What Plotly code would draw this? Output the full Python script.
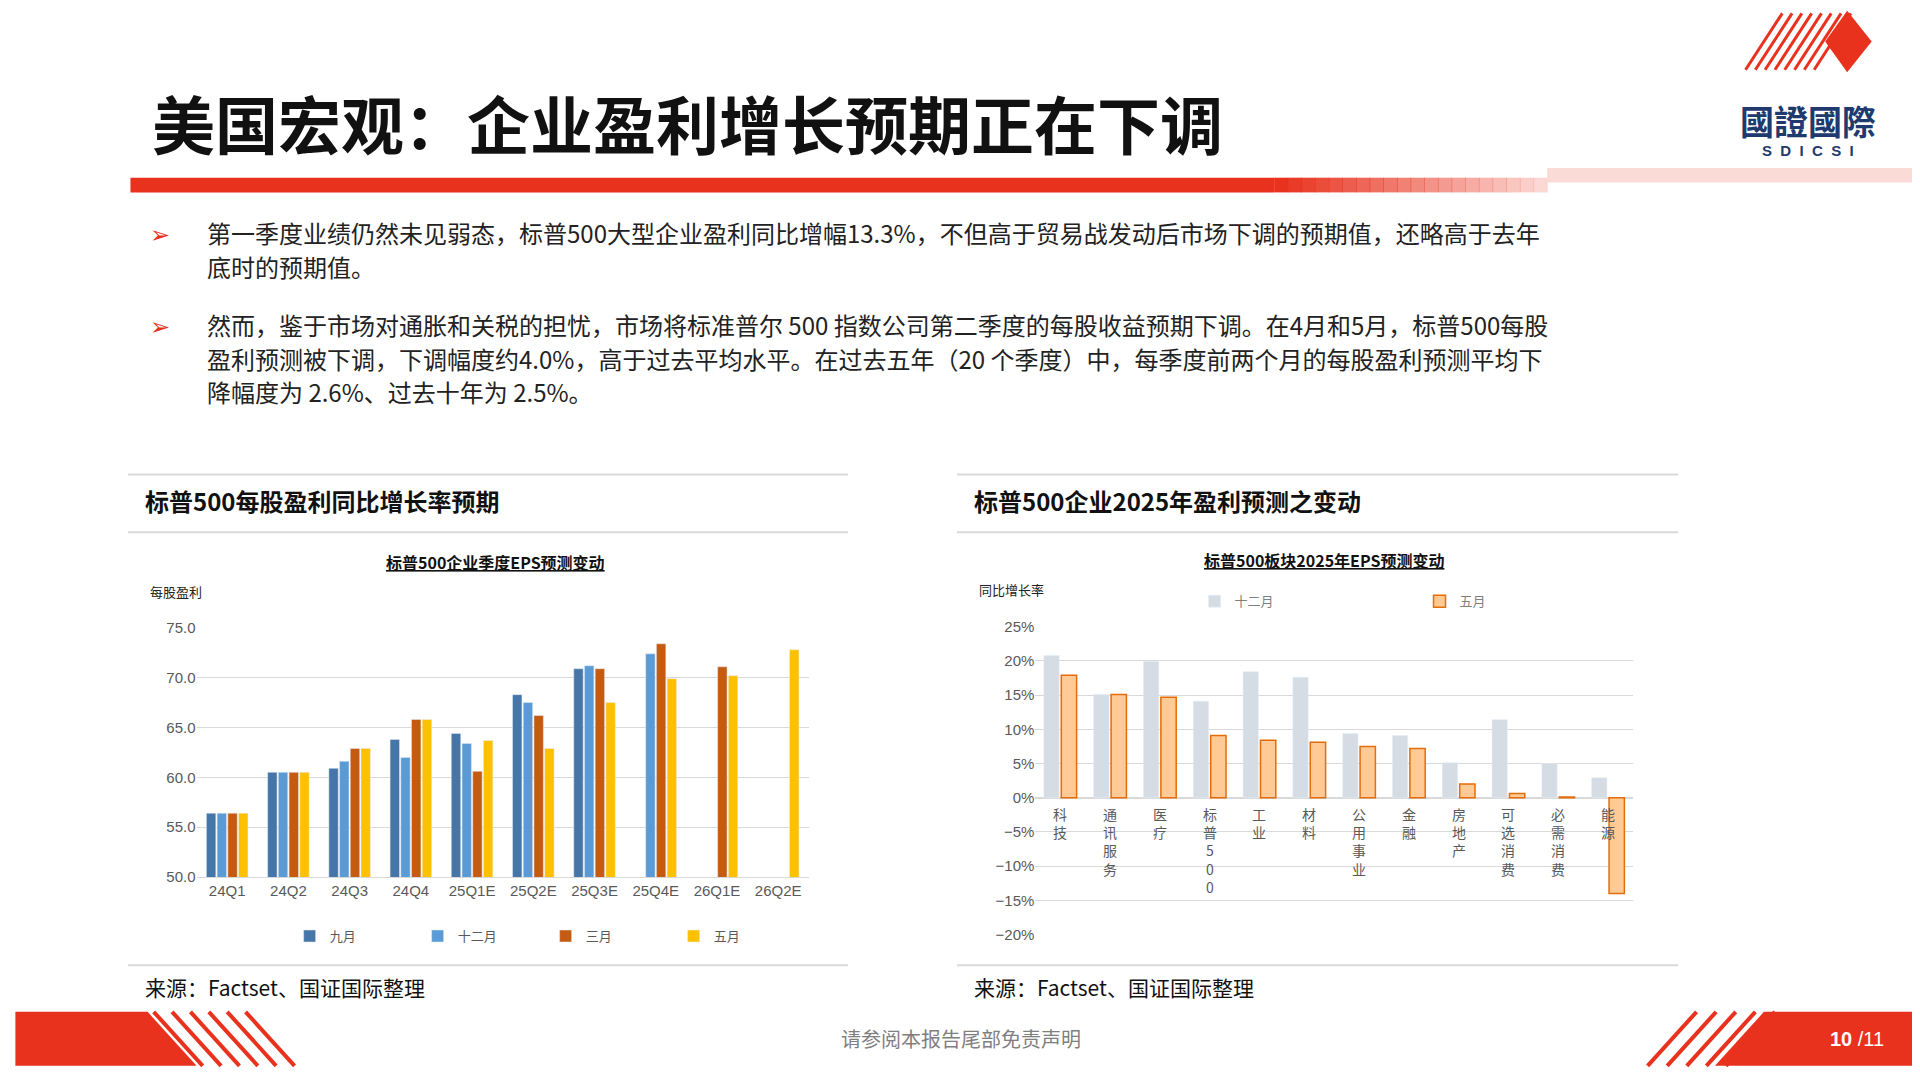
import plotly.graph_objects as go

S = 1920/1568
def X(p): return (p-6)*S/1920
def Y(p): return 1 - ((p-15)/0.9825)*S/1080

# ---------- data ----------
quarters = ["24Q1","24Q2","24Q3","24Q4","25Q1E","25Q2E","25Q3E","25Q4E","26Q1E","26Q2E"]
eps_sep = [56.4,60.5,60.9,63.8,64.4,68.3,70.9,None,None,None]
eps_dec = [56.4,60.5,61.6,62.0,63.4,67.5,71.2,72.4,None,None]
eps_mar = [56.4,60.5,62.9,65.8,60.6,66.2,70.9,73.4,71.1,None]
eps_may = [56.4,60.5,62.9,65.8,63.7,62.9,67.5,69.9,70.2,72.8]

sectors = ["科技","通讯服务","医疗","标普500","工业","材料","公用事业","金融","房地产","可选消费","必需消费","能源"]
sector_labels = ["科<br>技","通<br>讯<br>服<br>务","医<br>疗","标<br>普<br>5<br>0<br>0","工<br>业","材<br>料",
                 "公<br>用<br>事<br>业","金<br>融","房<br>地<br>产","可<br>选<br>消<br>费","必<br>需<br>消<br>费","能<br>源"]
g_dec = [20.8,15.1,19.9,14.1,18.4,17.6,9.4,9.1,5.1,11.4,5.0,2.9]
g_may = [17.9,15.1,14.7,9.1,8.4,8.1,7.5,7.2,2.0,0.6,0.1,-14.0]

FONT = "Noto Sans CJK SC"
fig = go.Figure()
fig.add_trace(go.Bar(x=quarters, y=eps_sep, name="九月", marker_color="#4676A8", legend="legend", xaxis="x", yaxis="y"))
fig.add_trace(go.Bar(x=quarters, y=eps_dec, name="十二月", marker_color="#5B9BD5", legend="legend", xaxis="x", yaxis="y"))
fig.add_trace(go.Bar(x=quarters, y=eps_mar, name="三月", marker_color="#C55A11", legend="legend", xaxis="x", yaxis="y"))
fig.add_trace(go.Bar(x=quarters, y=eps_may, name="五月", marker_color="#FFC000", legend="legend", xaxis="x", yaxis="y"))
fig.add_trace(go.Bar(x=sectors, y=g_dec, name="十二月", marker_color="#D6DCE4", legend="legend2", xaxis="x2", yaxis="y2"))
fig.add_trace(go.Bar(x=sectors, y=g_may, name="五月", marker=dict(color="#FFCA96", line=dict(color="#E46C0A", width=1.5)),
                     legend="legend2", xaxis="x2", yaxis="y2"))

grid = "#D9D9D9"
tick = dict(family="Liberation Sans", size=15, color="#595959")
fig.update_layout(
    width=1920, height=1080, margin=dict(l=0, r=0, t=0, b=0),
    paper_bgcolor="white", plot_bgcolor="white", showlegend=True,
    barmode="group", bargap=0.3, bargroupgap=0.12,
    font=dict(family=FONT),
    xaxis=dict(domain=[X(160), X(660)], anchor="y", tickfont=tick, showline=True, linecolor=grid, ticks=""),
    yaxis=dict(domain=[Y(716), Y(513)], range=[50, 75], dtick=5, tickformat=".1f", tickfont=tick,
               gridcolor=grid, zeroline=False, anchor="x"),
    xaxis2=dict(domain=[X(845), X(1333)], anchor="y2", showticklabels=False, showline=False, ticks=""),
    yaxis2=dict(domain=[Y(763), Y(512)], range=[-20, 25], dtick=5, ticksuffix="%", tickfont=tick,
                gridcolor=grid, zeroline=True, zerolinecolor=grid, anchor="x2"),
    legend=dict(orientation="h", x=X(236), y=Y(752), xanchor="left", yanchor="top",
                font=dict(size=13, color="#595959", family=FONT), itemwidth=30, entrywidth=83, traceorder="normal"),
    legend2=dict(orientation="h", x=X(975), y=Y(479), xanchor="left", yanchor="top",
                 font=dict(size=13, color="#7F7F7F", family=FONT), entrywidth=180, traceorder="normal"),
)

shapes = []
anns = []
def rect(x0, y0, x1, y1, color, opacity=1):
    shapes.append(dict(type="rect", xref="paper", yref="paper", x0=X(x0), x1=X(x1), y0=Y(y1), y1=Y(y0),
                       fillcolor=color, line_width=0, opacity=opacity, layer="below"))
def hline(x0, x1, y, color="#D9D9D9", w=2):
    shapes.append(dict(type="line", xref="paper", yref="paper", x0=X(x0), x1=X(x1), y0=Y(y), y1=Y(y),
                       line=dict(color=color, width=w)))
def text(x, y, s, size, color="#000", xa="left", ya="middle", bold=False, family=FONT):
    anns.append(dict(xref="paper", yref="paper", x=X(x), y=Y(y), text=(f"<b>{s}</b>" if bold else s),
                     showarrow=False, xanchor=xa, yanchor=ya, font=dict(size=size, color=color, family=family)))

# header bar with gradient fade
rect(106, 146, 1040, 158, "#E8321E")
n = 20
for i in range(n):
    x0 = 1040 + i*(1263-1040)/n
    rect(x0, 146, x0 + (1263-1040)/n + 0.5, 158, "#E8321E", 1 - i/n*0.85)
rect(1263, 138, 1574, 150, "#FADBD5")
text(122, 100, "美国宏观：企业盈利增长预期正在下调", 63, "#111", bold=True)

# logo
for i in range(8):
    x0 = 1425 + i*8
    shapes.append(dict(type="line", xref="paper", yref="paper", x0=X(x0), y0=Y(58), x1=X(x0+30), y1=Y(12),
                       line=dict(color="#E8321E", width=3)))
shapes.append(dict(type="path", xref="paper", yref="paper",
                   path=f"M {X(1490)} {Y(35)} L {X(1508)} {Y(10)} L {X(1528)} {Y(35)} L {X(1508)} {Y(60)} Z",
                   fillcolor="#E8321E", line_width=0))
text(1476, 99, "國證國際", 34, "#1F3A6E", xa="center", bold=True)
text(1476, 124, "S  D  I  C  S  I", 15, "#1F3A6E", xa="center", bold=True, family="Liberation Sans")

# bullets
text(120, 191, "➢", 24, "#E8321E")
text(120, 266, "➢", 24, "#E8321E")
bl = [(191, "第一季度业绩仍然未见弱态，标普500大型企业盈利同比增幅13.3%，不但高于贸易战发动后市场下调的预期值，还略高于去年"),
      (218, "底时的预期值。"),
      (266, "然而，鉴于市场对通胀和关税的担忧，市场将标准普尔 500 指数公司第二季度的每股收益预期下调。在4月和5月，标普500每股"),
      (293, "盈利预测被下调，下调幅度约4.0%，高于过去平均水平。在过去五年（20 个季度）中，每季度前两个月的每股盈利预测平均下"),
      (320, "降幅度为 2.6%、过去十年为 2.5%。")]
for y, s in bl:
    text(167, y, s, 24, "#222")

# panels
for x0, x1, head in [(104, 692, "标普500每股盈利同比增长率预期"), (781, 1370, "标普500企业2025年盈利预测之变动")]:
    hline(x0, x1, 388)
    hline(x0, x1, 435)
    hline(x0, x1, 788)
    text(x0 + 12, 409, head, 24, "#111", bold=True)
    text(x0 + 12, 806, "来源：Factset、国证国际整理", 21, "#111")

text(404, 459, "<u>标普500企业季度EPS预测变动</u>", 16, "#111", xa="center", bold=True)
text(1081, 458, "<u>标普500板块2025年EPS预测变动</u>", 16, "#111", xa="center", bold=True)
text(120, 483, "每股盈利", 13, "#222")
text(797, 482, "同比增长率", 13, "#222")

for s, lab in zip(sectors, sector_labels):
    anns.append(dict(xref="x2", yref="y2", x=s, y=0, yshift=-4, text=lab, showarrow=False, xanchor="center",
                     yanchor="top", font=dict(size=14, color="#595959", family=FONT)))

# footer
shapes.append(dict(type="path", xref="paper", yref="paper",
                   path=f"M {X(12)} {Y(826)} L {X(120)} {Y(826)} L {X(160)} {Y(870)} L {X(12)} {Y(870)} Z",
                   fillcolor="#E8321E", line_width=0))
for i in range(6):
    x0 = 125 + i*15
    shapes.append(dict(type="line", xref="paper", yref="paper", x0=X(x0), y0=Y(826), x1=X(x0+40), y1=Y(870),
                       line=dict(color="#E8321E", width=4)))
shapes.append(dict(type="path", xref="paper", yref="paper",
                   path=f"M {X(1440)} {Y(826)} L {X(1574)} {Y(826)} L {X(1574)} {Y(870)} L {X(1400)} {Y(870)} Z",
                   fillcolor="#E8321E", line_width=0))
for i in range(5):
    x0 = 1345 + i*16
    shapes.append(dict(type="line", xref="paper", yref="paper", x0=X(x0), y0=Y(870), x1=X(x0+40), y1=Y(826),
                       line=dict(color="#E8321E", width=4)))
text(784, 848, "请参阅本报告尾部免责声明", 20, "#7F7F7F", xa="center")
text(1516, 848, "<b>10</b> /11", 20, "white", xa="center", family="Liberation Sans")

fig.update_layout(shapes=shapes, annotations=anns)
fig.write_html("out.html")
